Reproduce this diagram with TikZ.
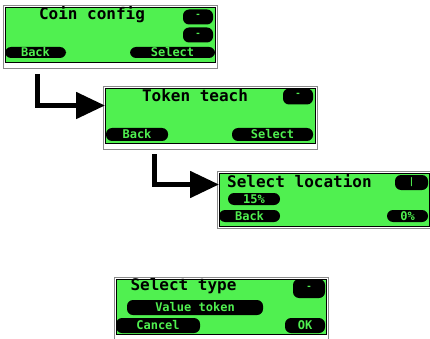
\documentclass[tikz,border=0pt]{standalone}
\usepackage{fontspec}
\usepackage{tikz}
\usetikzlibrary{arrows.meta,positioning,backgrounds}
\newfontfamily\lcdfont{DejaVu Sans Mono}
\definecolor{lcd}{HTML}{50F050}
\definecolor{bezel}{HTML}{8A8A8A}

\tikzset{
  screen/.style={draw=black, fill=lcd, line width=1pt, anchor=north west, inner sep=0pt,
                 minimum width=210pt},
  title/.style={font=\lcdfont\bfseries\fontsize{16}{16}\selectfont, inner sep=0pt},
  pill/.style={fill=black, text=lcd, rounded corners=6pt, inner sep=0pt,
               font=\lcdfont\bfseries\fontsize{12}{12}\selectfont},
  icon/.style={fill=black, text=lcd, rounded corners=6pt, inner sep=0pt,
               font=\lcdfont\bfseries\fontsize{9}{9}\selectfont},
  flow/.style={line width=5pt, -{Triangle[length=29pt,width=26pt]}}
}

\begin{document}
\begin{tikzpicture}[x=1pt,y=1pt]
  \useasboundingbox (0,0) rectangle (430,-339);
  % the four displays
  \foreach \n/\x/\y/\h in {s1/5/-7/55, s2/105/-88/55, s3/219/-173/53, s4/116/-279/55}
    { \node[screen, minimum height=\h pt] (\n) at (\x,\y) {}; }
  \begin{scope}[on background layer]
    \foreach \n in {s1,s2,s4}
      \draw[bezel, fill=white, line width=1.2pt]
        ([shift={(-1.5pt,1.5pt)}]\n.north west) rectangle ([shift={(1.5pt,-5.5pt)}]\n.south east);
    \draw[bezel, line width=1.2pt]
      ([shift={(-1.5pt,1.5pt)}]s3.north west) rectangle ([shift={(1.5pt,-1.5pt)}]s3.south east);
  \end{scope}

  % Coin config
  \node[title] (s1t) at (92,-15) {Coin config};
  \node[icon, minimum width=30pt, minimum height=15pt] (s1u) at (198,-17) {\raisebox{3pt}{-}};
  \node[icon, minimum width=30pt, minimum height=15pt] (s1d) at (198,-35) {\raisebox{-3pt}{-}};
  \node[pill, minimum width=61pt, minimum height=11pt] (s1b) at (35.5,-52.5) {Back};
  \node[pill, minimum width=85pt, minimum height=11pt] (s1s) at (172.5,-52.5) {Select};

  % Token teach
  \node[title] (s2t) at (195,-96) {Token teach};
  \node[icon, minimum width=30pt, minimum height=16pt] (s2i) at (298,-96.5) {\raisebox{3pt}{-}};
  \node[pill, minimum width=62pt, minimum height=13pt] (s2b) at (137,-134.5) {Back};
  \node[pill, minimum width=81pt, minimum height=13pt] (s2s) at (272.5,-134.5) {Select};

  % Select location
  \node[title, anchor=west] (s3t) at (227,-181) {Select location};
  \node[icon, minimum width=33pt, minimum height=15pt] (s3i) at (411.5,-182.5) {|};
  \node[pill, minimum width=52pt, minimum height=12pt] (s3v) at (254,-199) {15\%};
  \node[pill, minimum width=61pt, minimum height=12pt] (s3b) at (249.5,-216) {Back};
  \node[pill, minimum width=41pt, minimum height=12pt] (s3o) at (407.5,-216) {0\%};

  % Select type
  \node[title] (s4t) at (183.5,-286) {Select type};
  \node[icon, minimum width=32pt, minimum height=19pt] (s4i) at (309,-288.5) {\raisebox{2pt}{-}};
  \node[pill, minimum width=136pt, minimum height=15pt] (s4v) at (195,-307.5) {Value token};
  \node[pill, minimum width=84pt, minimum height=15pt] (s4c) at (158,-325.5) {Cancel};
  \node[pill, minimum width=40pt, minimum height=15pt] (s4o) at (305,-325.5) {OK};

  % arrows between the displays
  \draw[flow] ([xshift=32.5pt,yshift=-11pt]s1.south west) |- ([yshift=10.5pt]s2.west);
  \draw[flow] ([xshift=49pt,yshift=-10pt]s2.south west) |- ([yshift=15.5pt]s3.west);
\end{tikzpicture}
\end{document}
